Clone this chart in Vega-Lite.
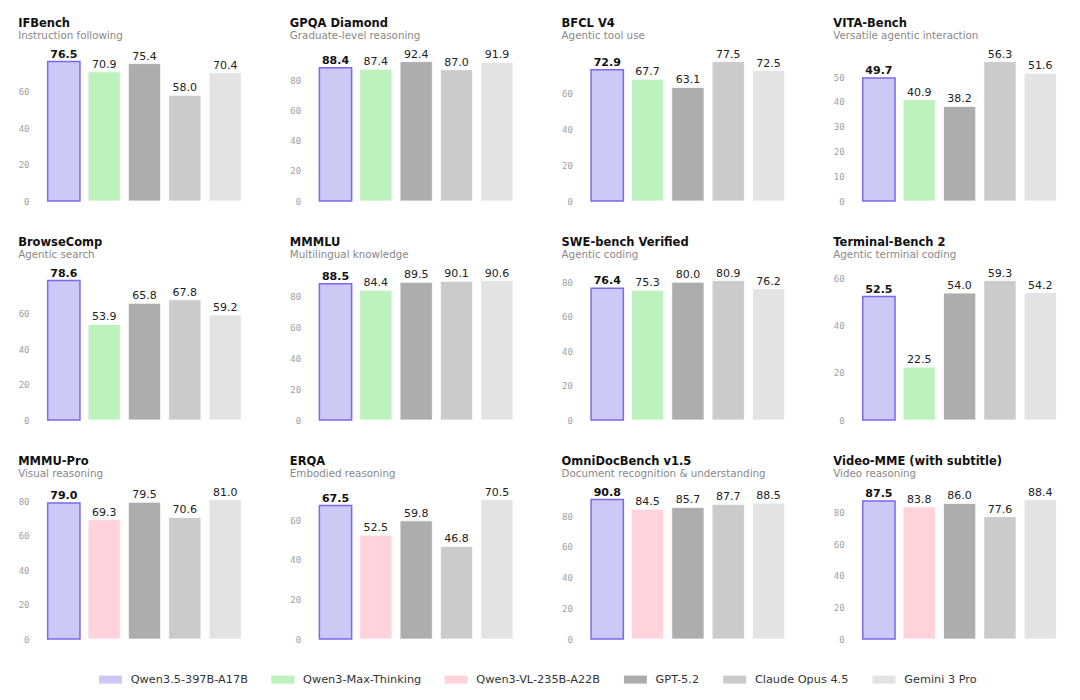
{
  "$schema": "https://vega.github.io/schema/vega-lite/v6.json",
  "padding": {"left": 18, "top": 17.5, "right": 5, "bottom": 5},
  "background": "white",
  "datasets": {
    "scores": [
      {"bench": "IFBench", "model": "Qwen3.5-397B-A17B", "score": 76.5},
      {"bench": "IFBench", "model": "Qwen3-Max-Thinking", "score": 70.9},
      {"bench": "IFBench", "model": "GPT-5.2", "score": 75.4},
      {"bench": "IFBench", "model": "Claude Opus 4.5", "score": 58.0},
      {"bench": "IFBench", "model": "Gemini 3 Pro", "score": 70.4},
      {"bench": "GPQA Diamond", "model": "Qwen3.5-397B-A17B", "score": 88.4},
      {"bench": "GPQA Diamond", "model": "Qwen3-Max-Thinking", "score": 87.4},
      {"bench": "GPQA Diamond", "model": "GPT-5.2", "score": 92.4},
      {"bench": "GPQA Diamond", "model": "Claude Opus 4.5", "score": 87.0},
      {"bench": "GPQA Diamond", "model": "Gemini 3 Pro", "score": 91.9},
      {"bench": "BFCL V4", "model": "Qwen3.5-397B-A17B", "score": 72.9},
      {"bench": "BFCL V4", "model": "Qwen3-Max-Thinking", "score": 67.7},
      {"bench": "BFCL V4", "model": "GPT-5.2", "score": 63.1},
      {"bench": "BFCL V4", "model": "Claude Opus 4.5", "score": 77.5},
      {"bench": "BFCL V4", "model": "Gemini 3 Pro", "score": 72.5},
      {"bench": "VITA-Bench", "model": "Qwen3.5-397B-A17B", "score": 49.7},
      {"bench": "VITA-Bench", "model": "Qwen3-Max-Thinking", "score": 40.9},
      {"bench": "VITA-Bench", "model": "GPT-5.2", "score": 38.2},
      {"bench": "VITA-Bench", "model": "Claude Opus 4.5", "score": 56.3},
      {"bench": "VITA-Bench", "model": "Gemini 3 Pro", "score": 51.6},
      {"bench": "BrowseComp", "model": "Qwen3.5-397B-A17B", "score": 78.6},
      {"bench": "BrowseComp", "model": "Qwen3-Max-Thinking", "score": 53.9},
      {"bench": "BrowseComp", "model": "GPT-5.2", "score": 65.8},
      {"bench": "BrowseComp", "model": "Claude Opus 4.5", "score": 67.8},
      {"bench": "BrowseComp", "model": "Gemini 3 Pro", "score": 59.2},
      {"bench": "MMMLU", "model": "Qwen3.5-397B-A17B", "score": 88.5},
      {"bench": "MMMLU", "model": "Qwen3-Max-Thinking", "score": 84.4},
      {"bench": "MMMLU", "model": "GPT-5.2", "score": 89.5},
      {"bench": "MMMLU", "model": "Claude Opus 4.5", "score": 90.1},
      {"bench": "MMMLU", "model": "Gemini 3 Pro", "score": 90.6},
      {"bench": "SWE-bench Verified", "model": "Qwen3.5-397B-A17B", "score": 76.4},
      {"bench": "SWE-bench Verified", "model": "Qwen3-Max-Thinking", "score": 75.3},
      {"bench": "SWE-bench Verified", "model": "GPT-5.2", "score": 80.0},
      {"bench": "SWE-bench Verified", "model": "Claude Opus 4.5", "score": 80.9},
      {"bench": "SWE-bench Verified", "model": "Gemini 3 Pro", "score": 76.2},
      {"bench": "Terminal-Bench 2", "model": "Qwen3.5-397B-A17B", "score": 52.5},
      {"bench": "Terminal-Bench 2", "model": "Qwen3-Max-Thinking", "score": 22.5},
      {"bench": "Terminal-Bench 2", "model": "GPT-5.2", "score": 54.0},
      {"bench": "Terminal-Bench 2", "model": "Claude Opus 4.5", "score": 59.3},
      {"bench": "Terminal-Bench 2", "model": "Gemini 3 Pro", "score": 54.2},
      {"bench": "MMMU-Pro", "model": "Qwen3.5-397B-A17B", "score": 79.0},
      {"bench": "MMMU-Pro", "model": "Qwen3-VL-235B-A22B", "score": 69.3},
      {"bench": "MMMU-Pro", "model": "GPT-5.2", "score": 79.5},
      {"bench": "MMMU-Pro", "model": "Claude Opus 4.5", "score": 70.6},
      {"bench": "MMMU-Pro", "model": "Gemini 3 Pro", "score": 81.0},
      {"bench": "ERQA", "model": "Qwen3.5-397B-A17B", "score": 67.5},
      {"bench": "ERQA", "model": "Qwen3-VL-235B-A22B", "score": 52.5},
      {"bench": "ERQA", "model": "GPT-5.2", "score": 59.8},
      {"bench": "ERQA", "model": "Claude Opus 4.5", "score": 46.8},
      {"bench": "ERQA", "model": "Gemini 3 Pro", "score": 70.5},
      {"bench": "OmniDocBench v1.5", "model": "Qwen3.5-397B-A17B", "score": 90.8},
      {"bench": "OmniDocBench v1.5", "model": "Qwen3-VL-235B-A22B", "score": 84.5},
      {"bench": "OmniDocBench v1.5", "model": "GPT-5.2", "score": 85.7},
      {"bench": "OmniDocBench v1.5", "model": "Claude Opus 4.5", "score": 87.7},
      {"bench": "OmniDocBench v1.5", "model": "Gemini 3 Pro", "score": 88.5},
      {"bench": "Video-MME (with subtitle)", "model": "Qwen3.5-397B-A17B", "score": 87.5},
      {"bench": "Video-MME (with subtitle)", "model": "Qwen3-VL-235B-A22B", "score": 83.8},
      {"bench": "Video-MME (with subtitle)", "model": "GPT-5.2", "score": 86.0},
      {"bench": "Video-MME (with subtitle)", "model": "Claude Opus 4.5", "score": 77.6},
      {"bench": "Video-MME (with subtitle)", "model": "Gemini 3 Pro", "score": 88.4}
    ]
  },
  "data": {"name": "scores"},
  "columns": 4,
  "bounds": "flush",
  "spacing": {"row": 77, "column": 58.7},
  "resolve": {"scale": {"x": "independent", "y": "independent", "color": "shared"}},
  "concat": [
    {
      "width": 213, "height": 141.5,
      "title": {"text": "IFBench", "subtitle": "Instruction following"},
      "transform": [{"filter": "datum.bench === 'IFBench'"}],
      "encoding": {
        "x": {"field": "model", "type": "nominal", "sort": ["Qwen3.5-397B-A17B", "Qwen3-Max-Thinking", "Qwen3-VL-235B-A22B", "GPT-5.2", "Claude Opus 4.5", "Gemini 3 Pro"], "axis": null, "scale": {"paddingInner": 0.2, "paddingOuter": 0.24}},
        "y": {"field": "score", "type": "quantitative", "title": null, "scale": {"domain": [0, 77.65], "nice": false}}
      },
      "layer": [
        {"mark": {"type": "bar"}, "encoding": {
          "color": {"field": "model", "type": "nominal", "title": null, "scale": {"domain": ["Qwen3.5-397B-A17B", "Qwen3-Max-Thinking", "Qwen3-VL-235B-A22B", "GPT-5.2", "Claude Opus 4.5", "Gemini 3 Pro"], "range": ["#cdc9f7", "#bdf2bd", "#ffd2dc", "#adadad", "#cbcbcb", "#e3e3e3"]}},
          "stroke": {"condition": {"test": "datum.model === 'Qwen3.5-397B-A17B'", "value": "#7b68ee"}, "value": "#ffffff"},
          "strokeWidth": {"condition": {"test": "datum.model === 'Qwen3.5-397B-A17B'", "value": 1.5}, "value": 0.8}}},
        {"transform": [{"filter": "datum.model === 'Qwen3.5-397B-A17B'"}], "mark": {"type": "text", "fontWeight": "bold", "color": "#111"}, "encoding": {"text": {"field": "score", "type": "quantitative", "format": ".1f"}}},
        {"transform": [{"filter": "datum.model !== 'Qwen3.5-397B-A17B'"}], "mark": {"type": "text"}, "encoding": {"text": {"field": "score", "type": "quantitative", "format": ".1f"}}}
      ]
    },
    {
      "width": 213, "height": 141.5,
      "title": {"text": "GPQA Diamond", "subtitle": "Graduate-level reasoning"},
      "transform": [{"filter": "datum.bench === 'GPQA Diamond'"}],
      "encoding": {
        "x": {"field": "model", "type": "nominal", "sort": ["Qwen3.5-397B-A17B", "Qwen3-Max-Thinking", "Qwen3-VL-235B-A22B", "GPT-5.2", "Claude Opus 4.5", "Gemini 3 Pro"], "axis": null, "scale": {"paddingInner": 0.2, "paddingOuter": 0.24}},
        "y": {"field": "score", "type": "quantitative", "title": null, "scale": {"domain": [0, 93.79], "nice": false}}
      },
      "layer": [
        {"mark": {"type": "bar"}, "encoding": {
          "color": {"field": "model", "type": "nominal", "title": null, "scale": {"domain": ["Qwen3.5-397B-A17B", "Qwen3-Max-Thinking", "Qwen3-VL-235B-A22B", "GPT-5.2", "Claude Opus 4.5", "Gemini 3 Pro"], "range": ["#cdc9f7", "#bdf2bd", "#ffd2dc", "#adadad", "#cbcbcb", "#e3e3e3"]}},
          "stroke": {"condition": {"test": "datum.model === 'Qwen3.5-397B-A17B'", "value": "#7b68ee"}, "value": "#ffffff"},
          "strokeWidth": {"condition": {"test": "datum.model === 'Qwen3.5-397B-A17B'", "value": 1.5}, "value": 0.8}}},
        {"transform": [{"filter": "datum.model === 'Qwen3.5-397B-A17B'"}], "mark": {"type": "text", "fontWeight": "bold", "color": "#111"}, "encoding": {"text": {"field": "score", "type": "quantitative", "format": ".1f"}}},
        {"transform": [{"filter": "datum.model !== 'Qwen3.5-397B-A17B'"}], "mark": {"type": "text"}, "encoding": {"text": {"field": "score", "type": "quantitative", "format": ".1f"}}}
      ]
    },
    {
      "width": 213, "height": 141.5,
      "title": {"text": "BFCL V4", "subtitle": "Agentic tool use"},
      "transform": [{"filter": "datum.bench === 'BFCL V4'"}],
      "encoding": {
        "x": {"field": "model", "type": "nominal", "sort": ["Qwen3.5-397B-A17B", "Qwen3-Max-Thinking", "Qwen3-VL-235B-A22B", "GPT-5.2", "Claude Opus 4.5", "Gemini 3 Pro"], "axis": null, "scale": {"paddingInner": 0.2, "paddingOuter": 0.24}},
        "y": {"field": "score", "type": "quantitative", "title": null, "scale": {"domain": [0, 78.66], "nice": false}}
      },
      "layer": [
        {"mark": {"type": "bar"}, "encoding": {
          "color": {"field": "model", "type": "nominal", "title": null, "scale": {"domain": ["Qwen3.5-397B-A17B", "Qwen3-Max-Thinking", "Qwen3-VL-235B-A22B", "GPT-5.2", "Claude Opus 4.5", "Gemini 3 Pro"], "range": ["#cdc9f7", "#bdf2bd", "#ffd2dc", "#adadad", "#cbcbcb", "#e3e3e3"]}},
          "stroke": {"condition": {"test": "datum.model === 'Qwen3.5-397B-A17B'", "value": "#7b68ee"}, "value": "#ffffff"},
          "strokeWidth": {"condition": {"test": "datum.model === 'Qwen3.5-397B-A17B'", "value": 1.5}, "value": 0.8}}},
        {"transform": [{"filter": "datum.model === 'Qwen3.5-397B-A17B'"}], "mark": {"type": "text", "fontWeight": "bold", "color": "#111"}, "encoding": {"text": {"field": "score", "type": "quantitative", "format": ".1f"}}},
        {"transform": [{"filter": "datum.model !== 'Qwen3.5-397B-A17B'"}], "mark": {"type": "text"}, "encoding": {"text": {"field": "score", "type": "quantitative", "format": ".1f"}}}
      ]
    },
    {
      "width": 213, "height": 141.5,
      "title": {"text": "VITA-Bench", "subtitle": "Versatile agentic interaction"},
      "transform": [{"filter": "datum.bench === 'VITA-Bench'"}],
      "encoding": {
        "x": {"field": "model", "type": "nominal", "sort": ["Qwen3.5-397B-A17B", "Qwen3-Max-Thinking", "Qwen3-VL-235B-A22B", "GPT-5.2", "Claude Opus 4.5", "Gemini 3 Pro"], "axis": null, "scale": {"paddingInner": 0.2, "paddingOuter": 0.24}},
        "y": {"field": "score", "type": "quantitative", "title": null, "scale": {"domain": [0, 57.14], "nice": false}}
      },
      "layer": [
        {"mark": {"type": "bar"}, "encoding": {
          "color": {"field": "model", "type": "nominal", "title": null, "scale": {"domain": ["Qwen3.5-397B-A17B", "Qwen3-Max-Thinking", "Qwen3-VL-235B-A22B", "GPT-5.2", "Claude Opus 4.5", "Gemini 3 Pro"], "range": ["#cdc9f7", "#bdf2bd", "#ffd2dc", "#adadad", "#cbcbcb", "#e3e3e3"]}},
          "stroke": {"condition": {"test": "datum.model === 'Qwen3.5-397B-A17B'", "value": "#7b68ee"}, "value": "#ffffff"},
          "strokeWidth": {"condition": {"test": "datum.model === 'Qwen3.5-397B-A17B'", "value": 1.5}, "value": 0.8}}},
        {"transform": [{"filter": "datum.model === 'Qwen3.5-397B-A17B'"}], "mark": {"type": "text", "fontWeight": "bold", "color": "#111"}, "encoding": {"text": {"field": "score", "type": "quantitative", "format": ".1f"}}},
        {"transform": [{"filter": "datum.model !== 'Qwen3.5-397B-A17B'"}], "mark": {"type": "text"}, "encoding": {"text": {"field": "score", "type": "quantitative", "format": ".1f"}}}
      ]
    },
    {
      "width": 213, "height": 141.5,
      "title": {"text": "BrowseComp", "subtitle": "Agentic search"},
      "transform": [{"filter": "datum.bench === 'BrowseComp'"}],
      "encoding": {
        "x": {"field": "model", "type": "nominal", "sort": ["Qwen3.5-397B-A17B", "Qwen3-Max-Thinking", "Qwen3-VL-235B-A22B", "GPT-5.2", "Claude Opus 4.5", "Gemini 3 Pro"], "axis": null, "scale": {"paddingInner": 0.2, "paddingOuter": 0.24}},
        "y": {"field": "score", "type": "quantitative", "title": null, "scale": {"domain": [0, 79.78], "nice": false}}
      },
      "layer": [
        {"mark": {"type": "bar"}, "encoding": {
          "color": {"field": "model", "type": "nominal", "title": null, "scale": {"domain": ["Qwen3.5-397B-A17B", "Qwen3-Max-Thinking", "Qwen3-VL-235B-A22B", "GPT-5.2", "Claude Opus 4.5", "Gemini 3 Pro"], "range": ["#cdc9f7", "#bdf2bd", "#ffd2dc", "#adadad", "#cbcbcb", "#e3e3e3"]}},
          "stroke": {"condition": {"test": "datum.model === 'Qwen3.5-397B-A17B'", "value": "#7b68ee"}, "value": "#ffffff"},
          "strokeWidth": {"condition": {"test": "datum.model === 'Qwen3.5-397B-A17B'", "value": 1.5}, "value": 0.8}}},
        {"transform": [{"filter": "datum.model === 'Qwen3.5-397B-A17B'"}], "mark": {"type": "text", "fontWeight": "bold", "color": "#111"}, "encoding": {"text": {"field": "score", "type": "quantitative", "format": ".1f"}}},
        {"transform": [{"filter": "datum.model !== 'Qwen3.5-397B-A17B'"}], "mark": {"type": "text"}, "encoding": {"text": {"field": "score", "type": "quantitative", "format": ".1f"}}}
      ]
    },
    {
      "width": 213, "height": 141.5,
      "title": {"text": "MMMLU", "subtitle": "Multilingual knowledge"},
      "transform": [{"filter": "datum.bench === 'MMMLU'"}],
      "encoding": {
        "x": {"field": "model", "type": "nominal", "sort": ["Qwen3.5-397B-A17B", "Qwen3-Max-Thinking", "Qwen3-VL-235B-A22B", "GPT-5.2", "Claude Opus 4.5", "Gemini 3 Pro"], "axis": null, "scale": {"paddingInner": 0.2, "paddingOuter": 0.24}},
        "y": {"field": "score", "type": "quantitative", "title": null, "scale": {"domain": [0, 91.96], "nice": false}}
      },
      "layer": [
        {"mark": {"type": "bar"}, "encoding": {
          "color": {"field": "model", "type": "nominal", "title": null, "scale": {"domain": ["Qwen3.5-397B-A17B", "Qwen3-Max-Thinking", "Qwen3-VL-235B-A22B", "GPT-5.2", "Claude Opus 4.5", "Gemini 3 Pro"], "range": ["#cdc9f7", "#bdf2bd", "#ffd2dc", "#adadad", "#cbcbcb", "#e3e3e3"]}},
          "stroke": {"condition": {"test": "datum.model === 'Qwen3.5-397B-A17B'", "value": "#7b68ee"}, "value": "#ffffff"},
          "strokeWidth": {"condition": {"test": "datum.model === 'Qwen3.5-397B-A17B'", "value": 1.5}, "value": 0.8}}},
        {"transform": [{"filter": "datum.model === 'Qwen3.5-397B-A17B'"}], "mark": {"type": "text", "fontWeight": "bold", "color": "#111"}, "encoding": {"text": {"field": "score", "type": "quantitative", "format": ".1f"}}},
        {"transform": [{"filter": "datum.model !== 'Qwen3.5-397B-A17B'"}], "mark": {"type": "text"}, "encoding": {"text": {"field": "score", "type": "quantitative", "format": ".1f"}}}
      ]
    },
    {
      "width": 213, "height": 141.5,
      "title": {"text": "SWE-bench Verified", "subtitle": "Agentic coding"},
      "transform": [{"filter": "datum.bench === 'SWE-bench Verified'"}],
      "encoding": {
        "x": {"field": "model", "type": "nominal", "sort": ["Qwen3.5-397B-A17B", "Qwen3-Max-Thinking", "Qwen3-VL-235B-A22B", "GPT-5.2", "Claude Opus 4.5", "Gemini 3 Pro"], "axis": null, "scale": {"paddingInner": 0.2, "paddingOuter": 0.24}},
        "y": {"field": "score", "type": "quantitative", "title": null, "scale": {"domain": [0, 82.11], "nice": false}}
      },
      "layer": [
        {"mark": {"type": "bar"}, "encoding": {
          "color": {"field": "model", "type": "nominal", "title": null, "scale": {"domain": ["Qwen3.5-397B-A17B", "Qwen3-Max-Thinking", "Qwen3-VL-235B-A22B", "GPT-5.2", "Claude Opus 4.5", "Gemini 3 Pro"], "range": ["#cdc9f7", "#bdf2bd", "#ffd2dc", "#adadad", "#cbcbcb", "#e3e3e3"]}},
          "stroke": {"condition": {"test": "datum.model === 'Qwen3.5-397B-A17B'", "value": "#7b68ee"}, "value": "#ffffff"},
          "strokeWidth": {"condition": {"test": "datum.model === 'Qwen3.5-397B-A17B'", "value": 1.5}, "value": 0.8}}},
        {"transform": [{"filter": "datum.model === 'Qwen3.5-397B-A17B'"}], "mark": {"type": "text", "fontWeight": "bold", "color": "#111"}, "encoding": {"text": {"field": "score", "type": "quantitative", "format": ".1f"}}},
        {"transform": [{"filter": "datum.model !== 'Qwen3.5-397B-A17B'"}], "mark": {"type": "text"}, "encoding": {"text": {"field": "score", "type": "quantitative", "format": ".1f"}}}
      ]
    },
    {
      "width": 213, "height": 141.5,
      "title": {"text": "Terminal-Bench 2", "subtitle": "Agentic terminal coding"},
      "transform": [{"filter": "datum.bench === 'Terminal-Bench 2'"}],
      "encoding": {
        "x": {"field": "model", "type": "nominal", "sort": ["Qwen3.5-397B-A17B", "Qwen3-Max-Thinking", "Qwen3-VL-235B-A22B", "GPT-5.2", "Claude Opus 4.5", "Gemini 3 Pro"], "axis": null, "scale": {"paddingInner": 0.2, "paddingOuter": 0.24}},
        "y": {"field": "score", "type": "quantitative", "title": null, "scale": {"domain": [0, 60.19], "nice": false}}
      },
      "layer": [
        {"mark": {"type": "bar"}, "encoding": {
          "color": {"field": "model", "type": "nominal", "title": null, "scale": {"domain": ["Qwen3.5-397B-A17B", "Qwen3-Max-Thinking", "Qwen3-VL-235B-A22B", "GPT-5.2", "Claude Opus 4.5", "Gemini 3 Pro"], "range": ["#cdc9f7", "#bdf2bd", "#ffd2dc", "#adadad", "#cbcbcb", "#e3e3e3"]}},
          "stroke": {"condition": {"test": "datum.model === 'Qwen3.5-397B-A17B'", "value": "#7b68ee"}, "value": "#ffffff"},
          "strokeWidth": {"condition": {"test": "datum.model === 'Qwen3.5-397B-A17B'", "value": 1.5}, "value": 0.8}}},
        {"transform": [{"filter": "datum.model === 'Qwen3.5-397B-A17B'"}], "mark": {"type": "text", "fontWeight": "bold", "color": "#111"}, "encoding": {"text": {"field": "score", "type": "quantitative", "format": ".1f"}}},
        {"transform": [{"filter": "datum.model !== 'Qwen3.5-397B-A17B'"}], "mark": {"type": "text"}, "encoding": {"text": {"field": "score", "type": "quantitative", "format": ".1f"}}}
      ]
    },
    {
      "width": 213, "height": 141.5,
      "title": {"text": "MMMU-Pro", "subtitle": "Visual reasoning"},
      "transform": [{"filter": "datum.bench === 'MMMU-Pro'"}],
      "encoding": {
        "x": {"field": "model", "type": "nominal", "sort": ["Qwen3.5-397B-A17B", "Qwen3-Max-Thinking", "Qwen3-VL-235B-A22B", "GPT-5.2", "Claude Opus 4.5", "Gemini 3 Pro"], "axis": null, "scale": {"paddingInner": 0.2, "paddingOuter": 0.24}},
        "y": {"field": "score", "type": "quantitative", "title": null, "scale": {"domain": [0, 82.22], "nice": false}}
      },
      "layer": [
        {"mark": {"type": "bar"}, "encoding": {
          "color": {"field": "model", "type": "nominal", "title": null, "scale": {"domain": ["Qwen3.5-397B-A17B", "Qwen3-Max-Thinking", "Qwen3-VL-235B-A22B", "GPT-5.2", "Claude Opus 4.5", "Gemini 3 Pro"], "range": ["#cdc9f7", "#bdf2bd", "#ffd2dc", "#adadad", "#cbcbcb", "#e3e3e3"]}},
          "stroke": {"condition": {"test": "datum.model === 'Qwen3.5-397B-A17B'", "value": "#7b68ee"}, "value": "#ffffff"},
          "strokeWidth": {"condition": {"test": "datum.model === 'Qwen3.5-397B-A17B'", "value": 1.5}, "value": 0.8}}},
        {"transform": [{"filter": "datum.model === 'Qwen3.5-397B-A17B'"}], "mark": {"type": "text", "fontWeight": "bold", "color": "#111"}, "encoding": {"text": {"field": "score", "type": "quantitative", "format": ".1f"}}},
        {"transform": [{"filter": "datum.model !== 'Qwen3.5-397B-A17B'"}], "mark": {"type": "text"}, "encoding": {"text": {"field": "score", "type": "quantitative", "format": ".1f"}}}
      ]
    },
    {
      "width": 213, "height": 141.5,
      "title": {"text": "ERQA", "subtitle": "Embodied reasoning"},
      "transform": [{"filter": "datum.bench === 'ERQA'"}],
      "encoding": {
        "x": {"field": "model", "type": "nominal", "sort": ["Qwen3.5-397B-A17B", "Qwen3-Max-Thinking", "Qwen3-VL-235B-A22B", "GPT-5.2", "Claude Opus 4.5", "Gemini 3 Pro"], "axis": null, "scale": {"paddingInner": 0.2, "paddingOuter": 0.24}},
        "y": {"field": "score", "type": "quantitative", "title": null, "scale": {"domain": [0, 71.56], "nice": false}}
      },
      "layer": [
        {"mark": {"type": "bar"}, "encoding": {
          "color": {"field": "model", "type": "nominal", "title": null, "scale": {"domain": ["Qwen3.5-397B-A17B", "Qwen3-Max-Thinking", "Qwen3-VL-235B-A22B", "GPT-5.2", "Claude Opus 4.5", "Gemini 3 Pro"], "range": ["#cdc9f7", "#bdf2bd", "#ffd2dc", "#adadad", "#cbcbcb", "#e3e3e3"]}},
          "stroke": {"condition": {"test": "datum.model === 'Qwen3.5-397B-A17B'", "value": "#7b68ee"}, "value": "#ffffff"},
          "strokeWidth": {"condition": {"test": "datum.model === 'Qwen3.5-397B-A17B'", "value": 1.5}, "value": 0.8}}},
        {"transform": [{"filter": "datum.model === 'Qwen3.5-397B-A17B'"}], "mark": {"type": "text", "fontWeight": "bold", "color": "#111"}, "encoding": {"text": {"field": "score", "type": "quantitative", "format": ".1f"}}},
        {"transform": [{"filter": "datum.model !== 'Qwen3.5-397B-A17B'"}], "mark": {"type": "text"}, "encoding": {"text": {"field": "score", "type": "quantitative", "format": ".1f"}}}
      ]
    },
    {
      "width": 213, "height": 141.5,
      "title": {"text": "OmniDocBench v1.5", "subtitle": "Document recognition & understanding"},
      "transform": [{"filter": "datum.bench === 'OmniDocBench v1.5'"}],
      "encoding": {
        "x": {"field": "model", "type": "nominal", "sort": ["Qwen3.5-397B-A17B", "Qwen3-Max-Thinking", "Qwen3-VL-235B-A22B", "GPT-5.2", "Claude Opus 4.5", "Gemini 3 Pro"], "axis": null, "scale": {"paddingInner": 0.2, "paddingOuter": 0.24}},
        "y": {"field": "score", "type": "quantitative", "title": null, "scale": {"domain": [0, 92.16], "nice": false}}
      },
      "layer": [
        {"mark": {"type": "bar"}, "encoding": {
          "color": {"field": "model", "type": "nominal", "title": null, "scale": {"domain": ["Qwen3.5-397B-A17B", "Qwen3-Max-Thinking", "Qwen3-VL-235B-A22B", "GPT-5.2", "Claude Opus 4.5", "Gemini 3 Pro"], "range": ["#cdc9f7", "#bdf2bd", "#ffd2dc", "#adadad", "#cbcbcb", "#e3e3e3"]}},
          "stroke": {"condition": {"test": "datum.model === 'Qwen3.5-397B-A17B'", "value": "#7b68ee"}, "value": "#ffffff"},
          "strokeWidth": {"condition": {"test": "datum.model === 'Qwen3.5-397B-A17B'", "value": 1.5}, "value": 0.8}}},
        {"transform": [{"filter": "datum.model === 'Qwen3.5-397B-A17B'"}], "mark": {"type": "text", "fontWeight": "bold", "color": "#111"}, "encoding": {"text": {"field": "score", "type": "quantitative", "format": ".1f"}}},
        {"transform": [{"filter": "datum.model !== 'Qwen3.5-397B-A17B'"}], "mark": {"type": "text"}, "encoding": {"text": {"field": "score", "type": "quantitative", "format": ".1f"}}}
      ]
    },
    {
      "width": 213, "height": 141.5,
      "title": {"text": "Video-MME (with subtitle)", "subtitle": "Video reasoning"},
      "transform": [{"filter": "datum.bench === 'Video-MME (with subtitle)'"}],
      "encoding": {
        "x": {"field": "model", "type": "nominal", "sort": ["Qwen3.5-397B-A17B", "Qwen3-Max-Thinking", "Qwen3-VL-235B-A22B", "GPT-5.2", "Claude Opus 4.5", "Gemini 3 Pro"], "axis": null, "scale": {"paddingInner": 0.2, "paddingOuter": 0.24}},
        "y": {"field": "score", "type": "quantitative", "title": null, "scale": {"domain": [0, 89.73], "nice": false}}
      },
      "layer": [
        {"mark": {"type": "bar"}, "encoding": {
          "color": {"field": "model", "type": "nominal", "title": null, "scale": {"domain": ["Qwen3.5-397B-A17B", "Qwen3-Max-Thinking", "Qwen3-VL-235B-A22B", "GPT-5.2", "Claude Opus 4.5", "Gemini 3 Pro"], "range": ["#cdc9f7", "#bdf2bd", "#ffd2dc", "#adadad", "#cbcbcb", "#e3e3e3"]}},
          "stroke": {"condition": {"test": "datum.model === 'Qwen3.5-397B-A17B'", "value": "#7b68ee"}, "value": "#ffffff"},
          "strokeWidth": {"condition": {"test": "datum.model === 'Qwen3.5-397B-A17B'", "value": 1.5}, "value": 0.8}}},
        {"transform": [{"filter": "datum.model === 'Qwen3.5-397B-A17B'"}], "mark": {"type": "text", "fontWeight": "bold", "color": "#111"}, "encoding": {"text": {"field": "score", "type": "quantitative", "format": ".1f"}}},
        {"transform": [{"filter": "datum.model !== 'Qwen3.5-397B-A17B'"}], "mark": {"type": "text"}, "encoding": {"text": {"field": "score", "type": "quantitative", "format": ".1f"}}}
      ]
    }
  ],
  "config": {
    "font": "DejaVu Sans",
    "view": {"stroke": null},
    "bar": {"opacity": 1},
    "text": {"baseline": "alphabetic", "dy": -4, "fontSize": 11, "color": "#222", "font": "DejaVu Sans"},
    "axisY": {"domain": false, "ticks": false, "grid": false, "labelFont": "DejaVu Sans Mono", "labelFontSize": 9, "labelColor": "#a0a0a0", "labelPadding": 9, "tickCount": 4.15},
    "title": {"anchor": "start", "frame": "bounds", "font": "DejaVu Sans", "fontSize": 11.5, "fontWeight": "bold", "color": "#111111", "subtitleFont": "DejaVu Sans", "subtitleFontSize": 10.3, "subtitleColor": "#888888", "subtitlePadding": 2, "offset": 7},
    "legend": {"orient": "none", "direction": "horizontal", "legendX": 61, "legendY": 608.5, "padding": 0, "labelFont": "DejaVu Sans", "labelFontSize": 11.3, "labelColor": "#333333", "symbolType": "M-1,-0.35H1V0.35H-1Z", "symbolSize": 529, "labelOffset": 8.7, "columnPadding": 23.3, "symbolStrokeWidth": 0}
  }
}
